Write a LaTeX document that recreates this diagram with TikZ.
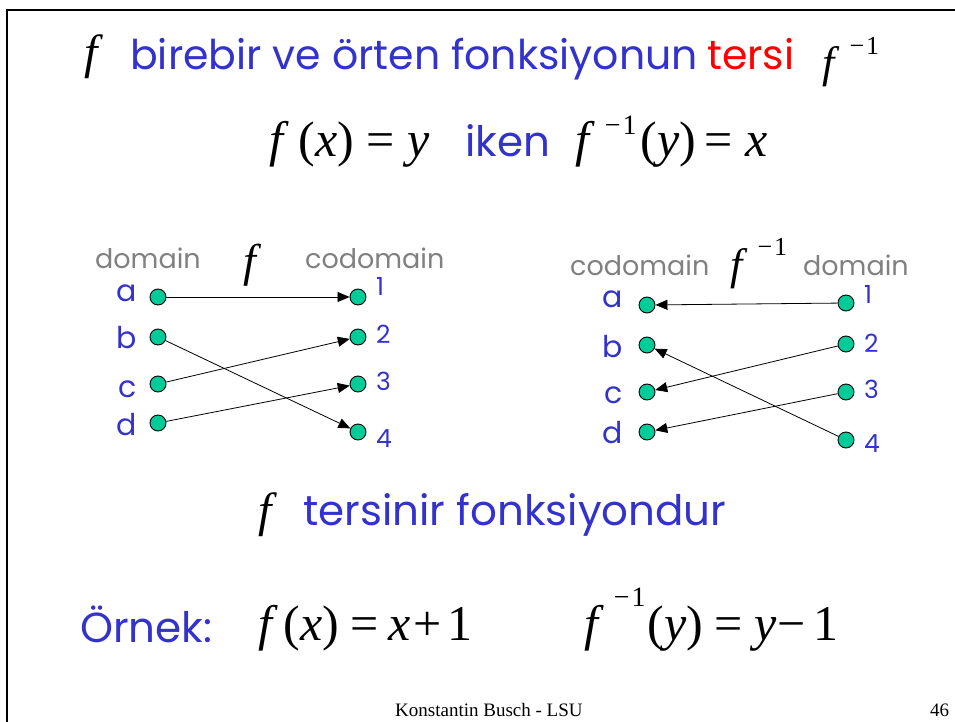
\documentclass[tikz,border=0pt]{standalone}
\usepackage{fontspec}
\setmainfont{Liberation Serif}
\newfontfamily\comic{Poppins}
\usetikzlibrary{positioning,arrows.meta}

\definecolor{slideblue}{RGB}{51,51,204}
\definecolor{dotgreen}{RGB}{0,204,153}
\definecolor{labelgray}{RGB}{128,128,128}

\newcommand{\fsize}[1]{\fontsize{#1}{#1}\selectfont}
% f^{-1}: kern, raise, size of the exponent
\newcommand{\finv}[3]{\textit{f}\kern#1pt\raisebox{#2pt}{\fsize{#3}−\kern2pt1}}
% relation sign with its gaps
\newcommand{\eqsign}[2]{\kern#1pt=\kern#2pt}

\begin{document}
\begin{tikzpicture}[x=1pt, y=-1pt, >={Triangle[length=12pt,width=10pt]},
  dot/.style={circle, draw, fill=dotgreen, minimum size=16pt, inner sep=0pt, line width=0.9pt},
  blu/.style={text=slideblue, font=\comic\fsize{42}, inner sep=0pt, anchor=base west},
  gry/.style={text=labelgray, font=\comic\fsize{27}, inner sep=0pt, anchor=base west},
  letr/.style={text=slideblue, font=\comic\fsize{30}, inner sep=0pt, anchor=base east},
  digt/.style={text=slideblue, font=\comic\fsize{25}, inner sep=0pt, anchor=base west},
  mth/.style={font=\fsize{50}, inner sep=0pt, anchor=base west},
  map/.style={->, line width=0.8pt}]
  \useasboundingbox (0,0) rectangle (955,722);
  \draw[line width=2pt] (7,722) -- (7,10) -- (955,10);

  % title
  \node[mth, font=\fsize{48}] (tf) at (84,69) {\textit{f}};
  \node[blu, font=\comic\fsize{41}] (ttxt) at (130,70) {birebir ve örten fonksiyonun};
  \node[blu, font=\comic\fsize{41}, text=red] (tersi) at (707,70) {tersi};
  \node[mth, font=\fsize{44}] (tfinv) at (822,78) {\finv{10}{23}{26}};

  % f(x)=y iken f^{-1}(y)=x
  \node[mth] (eqa) at (269,157) {\textit{f}\kern10pt(\textit{x})\eqsign{12}{13}\textit{y}};
  \node[blu] (iken) at (465,157) {iken};
  \node[mth] (eqb) at (575,157) {\finv{10}{22}{28}\kern4pt(\textit{y})\eqsign{8}{13}\textit{x}};

  % left mapping
  \node[gry] (dom) at (95,268) {domain};
  \node[gry] (cod) at (305,268) {codomain};
  \node[mth, font=\fsize{46}] (fl) at (243,276) {\textit{f}};
  \node[dot] (a) at (158,297) {};
  \node[dot] (b) at (158,337) {};
  \node[dot] (c) at (158,384) {};
  \node[dot] (d) at (158,423) {};
  \node[dot] (n1) at (358,297) {};
  \node[dot] (n2) at (358,337) {};
  \node[dot] (n3) at (358,384) {};
  \node[dot] (n4) at (358,432) {};
  \node[letr] (la) at (137,301) {a};
  \node[letr] (lb) at (137,348) {b};
  \node[letr] (lc) at (137,397) {c};
  \node[letr] (ld) at (137,435) {d};
  \node[digt] (l1) at (376,295) {1};
  \node[digt] (l2) at (376,343) {2};
  \node[digt] (l3) at (376,390) {3};
  \node[digt] (l4) at (376,447) {4};
  \draw[map] (a) -- (n1);
  \draw[map] (b) -- (n4);
  \draw[map] (c) -- (n2);
  \draw[map] (d) -- (n3);

  % right mapping (inverse)
  \node[gry] (cod2) at (570,275) {codomain};
  \node[gry] (dom2) at (803,275) {domain};
  \node[mth, font=\fsize{44}] (fr) at (730,279) {\finv{10}{24}{26}};
  \node[dot] (ra) at (647,305) {};
  \node[dot] (rb) at (647,345) {};
  \node[dot] (rc) at (647,392) {};
  \node[dot] (rd) at (647,432) {};
  \node[dot] (r1) at (846,303) {};
  \node[dot] (r2) at (846,344) {};
  \node[dot] (r3) at (846,392) {};
  \node[dot] (r4) at (846,440) {};
  \node[letr] (rla) at (623,307) {a};
  \node[letr] (rlb) at (623,357) {b};
  \node[letr] (rlc) at (623,403) {c};
  \node[letr] (rld) at (623,443) {d};
  \node[digt] (rl1) at (864,303) {1};
  \node[digt] (rl2) at (864,352) {2};
  \node[digt] (rl3) at (864,398) {3};
  \node[digt] (rl4) at (864,452) {4};
  \draw[map] (r1) -- (ra);
  \draw[map] (r2) -- (rc);
  \draw[map] (r3) -- (rd);
  \draw[map] (r4) -- (rb);

  % f is invertible
  \node[mth, font=\fsize{48}] (tf2) at (258,526) {\textit{f}};
  \node[blu] (ters) at (303,525) {tersinir fonksiyondur};

  % example
  \node[blu] (ornek) at (80,642) {Örnek:};
  \node[mth] (eqc) at (258,640) {\textit{f}\kern6pt(\textit{x})\eqsign{11}{10}\textit{x}\kern3pt+\kern6pt1};
  \node[mth] (eqd) at (584,640) {\finv{10}{34}{28}\kern2pt(\textit{y})\eqsign{11}{12}\textit{y}\kern1pt−\kern8pt1};

  % footer
  \node[font=\fsize{19}, inner sep=0pt, anchor=base west] (foot) at (395,716) {Konstantin Busch - LSU};
  \node[font=\fsize{19}, inner sep=0pt, anchor=base west] (page) at (930,716) {46};
\end{tikzpicture}
\end{document}
